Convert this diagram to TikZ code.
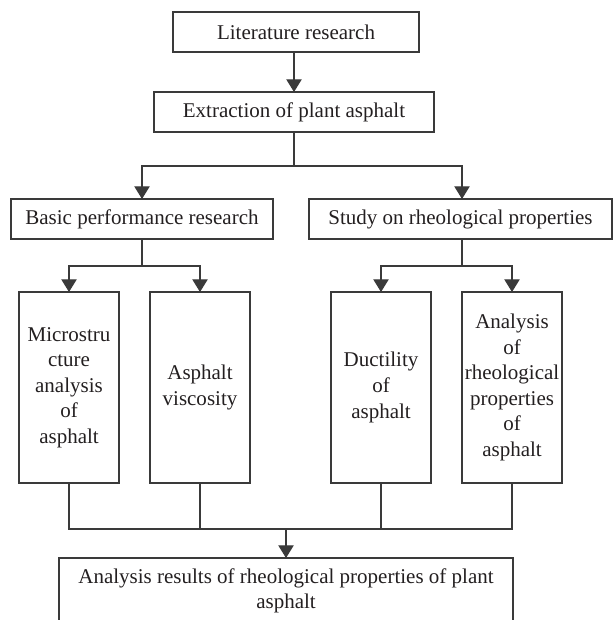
\documentclass[tikz,border=0pt]{standalone}
\usepackage{fontspec}
\setmainfont{Liberation Serif}
\usetikzlibrary{arrows.meta}
\definecolor{ink}{HTML}{231F20}
\definecolor{rule}{HTML}{3A3A3A}

\begin{document}
\begin{tikzpicture}[x=0.75pt,y=-0.75pt,>={Triangle[width=11.5pt,length=9.5pt]},
  box/.style={draw=rule,line width=0.9pt,inner sep=0pt,outer sep=0pt,align=center,text=ink,
    font=\fontsize{15.75}{19.2}\selectfont},
  tallbox/.style={box,minimum width=75pt,minimum height=143.25pt},
  link/.style={draw=rule,line width=0.9pt}]
\useasboundingbox (0,0) rectangle (613,620);
% top of the chart
\node[box,minimum width=184.5pt,minimum height=30pt] (lit) at(296,32) {Literature research};
\node[box,minimum width=210pt,minimum height=30pt] (ext) at(294,112) {Extraction of plant asphalt};
\node[box,minimum width=196.5pt,minimum height=30pt] (basic) at(142,219) {Basic performance research};
\node[box,minimum width=227.25pt,minimum height=30pt] (study) at(460.5,219) {Study on rheological properties};
% tall boxes
\node[tallbox] (micro) at(69,387.5) {Microstru\\cture\\analysis\\of\\asphalt};
\node[tallbox] (visc) at(200,387.5) {Asphalt\\viscosity};
\node[tallbox] (duct) at(381,387.5) {Ductility\\of\\asphalt};
\node[tallbox] (rheo) at(512,387.5) {Analysis\\of\\rheological\\properties\\of\\asphalt};
\node[box,minimum width=340.5pt,minimum height=49.5pt] (res) at(286,591) {Analysis results of rheological properties of plant\\asphalt};
% connectors
\coordinate (j1) at(294,166);\coordinate (j2) at(142,266);\coordinate (j3) at(462,266);\coordinate (j4) at(286,529);
\draw[link,->] (ext.north |- lit.south) -- (ext.north);
\draw[link] (ext.south) -- (j1);
\draw[link,->] (j1) -| (basic);\draw[link,->] (j1) -| (study.north -| j3);
\draw[link] (basic.south) -- (j2);\draw[link,->] (j2) -| (micro);\draw[link,->] (j2) -| (visc);
\draw[link] (study.south -| j3) -- (j3);\draw[link,->] (j3) -| (duct);\draw[link,->] (j3) -| (rheo);
\draw[link] (micro) |- (j4);\draw[link] (visc) |- (j4);\draw[link] (duct) |- (j4);\draw[link] (rheo) |- (j4);
\draw[link,->] (j4) -- (res);
\end{tikzpicture}
\end{document}
